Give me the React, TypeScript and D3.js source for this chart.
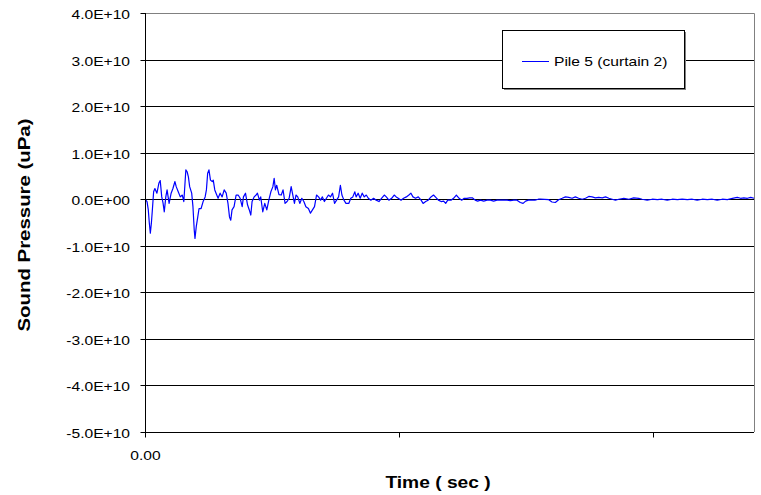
import React, { useEffect, useRef } from "react";
import * as d3 from "d3";

// time in ms, pressure in units of 1E+10 uPa
const timeMs = [
  0, 0.8, 1.3, 1.7, 2.1, 2.5, 2.9, 3.4, 3.9, 4.7, 5.5, 6.0, 6.6, 7.1, 7.6, 8.2, 8.7, 9.5, 10.3, 11.0,
  11.8, 12.3, 13.1, 13.9, 14.7, 15.3, 16.1, 16.6, 17.1, 17.6, 18.4, 18.9, 19.4, 19.7, 20.2, 20.8, 21.3,
  22.1, 22.9, 23.7, 24.2, 24.7, 25.2, 25.8, 26.5, 26.9, 27.5, 28.0, 28.8, 29.6, 30.4, 31.2, 32.0, 32.7,
  33.3, 33.8, 34.3, 35.1, 35.9, 36.7, 37.5, 38.3, 38.8, 39.6, 40.4, 41.1, 41.7, 42.2, 43.0, 43.8, 44.3,
  45.1, 45.6, 46.4, 47.2, 48.0, 48.8, 49.6, 50.4, 50.9, 51.4, 51.9, 52.8, 53.7, 54.4, 55.2, 56.0, 56.8,
  57.6, 58.1, 58.9, 59.5, 60.2, 61.0, 61.8, 62.6, 63.4, 64.4, 65.2, 66.0, 66.8, 67.6, 68.4, 69.2, 69.9,
  70.7, 71.5, 72.3, 73.1, 73.9, 74.7, 75.5, 76.3, 77.0, 77.6, 78.4, 79.2, 80.3, 81.1, 81.9, 82.7, 83.2,
  84.0, 84.8, 85.6, 86.4, 87.2, 88.0, 89.0, 90.1, 91.1, 92.2, 93.2, 94.3, 95.1, 96.1, 97.2, 98.2, 99.0,
  99.8, 100.9, 101.9, 103.0, 104.0, 104.8, 105.6, 106.6, 107.7, 108.8, 109.6, 110.6, 111.6, 112.7,
  113.7, 114.8, 115.6, 116.7, 117.7, 118.5, 119.3, 120.6, 121.6, 122.7, 123.8, 124.8, 125.8, 126.9,
  127.9, 129.0, 130.1, 131.1, 132.2, 133.5, 134.8, 136.1, 137.4, 138.7, 140.0, 141.3, 142.7, 144.0,
  145.3, 146.6, 147.9, 149.0, 150.0, 151.1, 152.4, 153.7, 155.0, 155.8, 159.1, 160.4, 161.7, 163.0,
  164.4, 165.7, 167.0, 168.3, 169.6, 170.9, 172.3, 173.6, 174.9, 176.2, 177.5, 178.8, 180.2, 181.5,
  182.8, 184.1, 185.4, 186.7, 188.7, 190.7, 192.6, 194.6, 195.9, 197.9, 199.9, 201.9, 203.8, 205.8,
  207.8, 209.8, 211.7, 213.7, 215.7, 217.6, 219.6, 221.6, 223.6, 225.5, 227.5, 229.5, 231.5, 233.4,
  234.7, 236.0, 237.4, 238.7, 240.0,
];

const pressure = [
  0, -0.05, -0.23, -0.51, -0.73, -0.52, -0.23, 0.16, 0.23, 0.13, 0.35, 0.4, 0.05, -0.08, -0.27, 0.05, 0.2,
  -0.09, 0.13, 0.23, 0.38, 0.27, 0.16, 0.05, 0.09, -0.05, 0.63, 0.59, 0.48, 0.27, 0.13, -0.16, -0.66,
  -0.84, -0.59, -0.38, -0.2, -0.2, -0.05, 0.05, 0.2, 0.56, 0.63, 0.41, 0.38, 0.41, 0.2, 0.13, 0.02, 0.13,
  0.05, 0.2, 0.13, -0.09, -0.38, -0.45, -0.23, -0.16, 0.09, 0.09, 0.02, -0.16, 0.05, 0.13, -0.12, -0.23,
  -0.34, -0.05, 0.05, 0.09, 0.13, -0.02, 0.05, -0.27, -0.09, -0.23, -0.02, 0.16, 0.27, 0.45, 0.2, 0.3,
  0.1, 0.09, 0.2, -0.09, -0.05, 0.02, 0.27, 0.13, -0.09, 0.09, 0.05, -0.09, 0.02, -0.05, -0.16, -0.2,
  -0.3, -0.23, -0.16, 0.09, 0.05, -0.02, 0.05, -0.05, 0.02, 0.09, 0.05, 0.13, -0.09, -0.02, 0.05, 0.3,
  0.09, -0.02, -0.09, -0.09, 0.02, 0.05, 0.16, 0.05, 0.13, 0.02, 0.13, 0.05, 0.09, 0.02, -0.02, 0.02,
  -0.02, -0.05, 0.02, 0.09, 0.05, -0.02, 0.02, 0.09, 0.05, 0.02, -0.02, 0.02, 0.05, 0.09, 0.13, 0.05,
  0.02, 0.05, -0.02, -0.09, -0.05, -0.02, 0.05, 0.09, 0.03, -0.02, -0.05, -0.04, -0.09, -0.02, -0.02,
  0.02, 0.09, 0.02, -0.02, 0.02, 0.02, 0.03, 0.03, -0.02, -0.04, -0.02, -0.04, -0.02, -0.02, -0.04,
  -0.02, -0.02, -0.02, -0.02, -0.03, -0.02, -0.02, -0.07, -0.09, -0.04, -0.02, -0.02, -0.02, 0.0, 0.0,
  -0.01, -0.06, -0.07, -0.01, 0.02, 0.05, 0.04, 0.02, 0.05, 0.02, 0.0, 0.02, 0.06, 0.05, 0.03, 0.04,
  0.03, 0.05, 0.02, 0.0, -0.02, 0.0, 0.02, 0.0, 0.03, 0.02, 0.0, -0.02, 0.0, -0.01, 0.0, -0.02, 0.0,
  -0.01, 0.0, -0.01, 0.0, -0.02, 0.0, -0.01, 0.0, -0.02, 0.0, -0.01, 0.02, 0.04, 0.02, 0.03, 0.02, 0.04,
  0.02,
];

const yTicks = [4, 3, 2, 1, 0, -1, -2, -3, -4, -5];
const yTickLabels = [
  "4.0E+10", "3.0E+10", "2.0E+10", "1.0E+10", "0.0E+00",
  "-1.0E+10", "-2.0E+10", "-3.0E+10", "-4.0E+10", "-5.0E+10",
];
const xTicks = [0, 100, 200];
const xTickLabels = ["0.00", "", ""];
const seriesName = "Pile 5 (curtain 2)";

function App() {
  const svgRef = useRef<SVGSVGElement>(null);
  const width = 761;
  const height = 495;

  useEffect(() => {
    const svg = d3.select(svgRef.current);
    svg.selectAll("*").remove();

    const margin = { top: 13, right: 7, bottom: 63, left: 145 };
    const font = "'Liberation Sans', Arial, sans-serif";
    const stretch = 1.2; // text in the picture is wider than plain Arial

    const x = d3
      .scaleLinear()
      .domain([0, 240])
      .range([margin.left, width - margin.right]);

    const y = d3
      .scaleLinear()
      .domain([-5, 4])
      .range([height - margin.bottom, margin.top]);

    const label = (
      px: number,
      py: number,
      text: string,
      size: number,
      anchor: string,
      bold = false,
      rotate = 0
    ) => {
      svg
        .append("g")
        .attr("transform", `translate(${px},${py}) rotate(${rotate}) scale(${stretch},1)`)
        .append("text")
        .attr("text-anchor", anchor)
        .attr("font-family", font)
        .attr("font-size", size)
        .attr("font-weight", bold ? "bold" : "normal")
        .attr("fill", "#000")
        .text(text);
    };

    // grid lines
    svg
      .append("g")
      .selectAll("line")
      .data(yTicks.filter((t) => t !== 4 && t !== -5))
      .join("line")
      .attr("x1", margin.left)
      .attr("x2", width - margin.right)
      .attr("y1", (d) => Math.round(y(d)) + 0.5)
      .attr("y2", (d) => Math.round(y(d)) + 0.5)
      .attr("stroke", "#000")
      .attr("stroke-width", 1);

    // plot border top / right
    svg
      .append("path")
      .attr(
        "d",
        `M${margin.left},${Math.round(y(4)) + 0.5}H${Math.round(x(240)) + 0.5}V${Math.round(y(-5))}`
      )
      .attr("fill", "none")
      .attr("stroke", "#808080");

    // series
    const points = timeMs.map((t, i) => ({ t, v: pressure[i] }));
    const line = d3
      .line<{ t: number; v: number }>()
      .x((d) => x(d.t))
      .y((d) => y(d.v));

    svg
      .append("path")
      .datum(points)
      .attr("fill", "none")
      .attr("stroke", "#0000ff")
      .attr("stroke-width", 1.2)
      .attr("stroke-linejoin", "round")
      .attr("d", line);

    // Y-axis
    const yAxisX = Math.round(x(0)) + 0.5;
    svg
      .append("line")
      .attr("x1", yAxisX)
      .attr("x2", yAxisX)
      .attr("y1", y(4))
      .attr("y2", y(-5) + 5)
      .attr("stroke", "#000");
    yTicks.forEach((t, i) => {
      const ty = Math.round(y(t)) + 0.5;
      svg
        .append("line")
        .attr("x1", yAxisX - 5)
        .attr("x2", yAxisX)
        .attr("y1", ty)
        .attr("y2", ty)
        .attr("stroke", "#000");
      label(130, ty + 5, yTickLabels[i], 13, "end");
    });

    // X-axis
    const xAxisY = Math.round(y(-5)) + 0.5;
    svg
      .append("line")
      .attr("x1", x(0))
      .attr("x2", x(240))
      .attr("y1", xAxisY)
      .attr("y2", xAxisY)
      .attr("stroke", "#000");
    xTicks.forEach((t, i) => {
      const tx = Math.round(x(t)) + 0.5;
      svg
        .append("line")
        .attr("x1", tx)
        .attr("x2", tx)
        .attr("y1", xAxisY)
        .attr("y2", xAxisY + 5)
        .attr("stroke", "#000");
      if (xTickLabels[i]) label(tx, 460, xTickLabels[i], 13, "middle");
    });

    // axis titles
    label(438, 488, "Time ( sec )", 16, "middle", true);
    label(30, 225, "Sound Pressure (uPa)", 17, "middle", true, -90);

    // legend
    const lg = { x: 502, y: 30, w: 182, h: 58 };
    svg
      .append("rect")
      .attr("x", lg.x + 2)
      .attr("y", lg.y + 2)
      .attr("width", lg.w)
      .attr("height", lg.h)
      .attr("fill", "#808080");
    svg
      .append("rect")
      .attr("x", lg.x + 0.5)
      .attr("y", lg.y + 0.5)
      .attr("width", lg.w)
      .attr("height", lg.h)
      .attr("fill", "#fff")
      .attr("stroke", "#000");
    svg
      .append("line")
      .attr("x1", lg.x + 20)
      .attr("x2", lg.x + 47)
      .attr("y1", lg.y + 31.5)
      .attr("y2", lg.y + 31.5)
      .attr("stroke", "#0000ff");
    label(lg.x + 52, lg.y + 36, seriesName, 13, "start");
  }, []);

  return (
    <svg
      ref={svgRef}
      width={width}
      height={height}
      style={{ position: "absolute", left: 0, top: 0, background: "#fff" }}
    ></svg>
  );
}

export default App;
